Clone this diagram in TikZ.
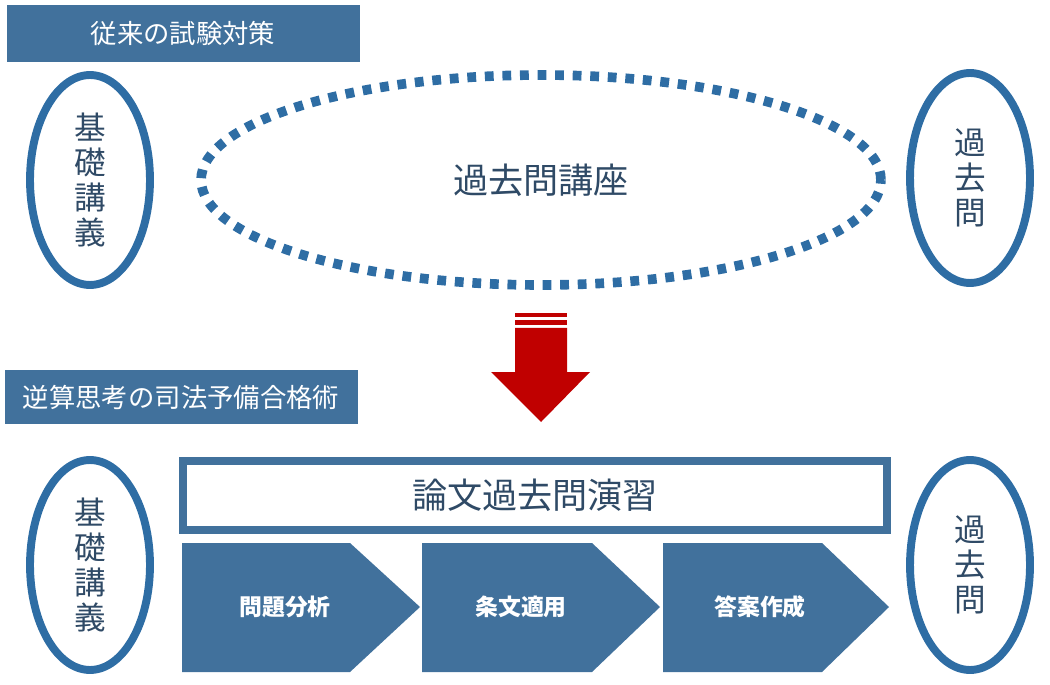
\documentclass[tikz,border=0pt]{standalone}
\usepackage{fontspec}
\setmainfont{Noto Sans CJK JP}
\usetikzlibrary{shapes.geometric,positioning}

\definecolor{boxblue}{HTML}{41719C}
\definecolor{lineblue}{HTML}{2E6DA4}
\definecolor{textblue}{HTML}{2F4A66}
\definecolor{arrowred}{HTML}{C00000}

\begin{document}
\begin{tikzpicture}[
    x=0.02cm, y=-0.02cm,
    title/.style={fill=boxblue, text=white, font=\fontsize{15}{18}\selectfont, inner sep=0pt}, % Stil der Titel
    oval/.style={ellipse, draw=lineblue, line width=4.5pt, inner sep=0pt, minimum width=2.4cm, minimum height=4.2cm, text=textblue, align=center, font=\fontsize{18}{20}\selectfont}, % Stil der Ellipsen
    phase/.style={fill=boxblue, text=white, font=\bfseries\fontsize{13}{16}\selectfont} % Stil der Pfeile
]
\useasboundingbox (0,0) rectangle (1050,685);

% Titel oben
\fill[boxblue] (7,5) rectangle (360,62);
\node[title] (old) at (183,33) {従来の試験対策};

% Ellipsen oben
\node[oval] (basic1) at (90,180) {基\\礎\\講\\義};
\node[oval] (past1) at (970,178) {過\\去\\問};
\node[ellipse, draw=lineblue, line width=5.5pt, dash pattern=on 5pt off 5pt,
      minimum width=13.6cm, minimum height=4.2cm, text=textblue,
      font=\fontsize{20}{25}\selectfont] (course) at (541,180) {過去問講座};

% roter Pfeil
\fill[arrowred] (515,313) rectangle (567,317);
\fill[arrowred] (515,320) rectangle (567,325);
\fill[arrowred] (515,328) -- (567,328) -- (567,372) -- (590,372) -- (541,422) -- (491,372) -- (515,372) -- cycle;

% Titel unten
\fill[boxblue] (5,370) rectangle (358,424);
\node[title] (new) at (181,397) {逆算思考の司法予備合格術};

% Ellipsen unten
\node[oval] (basic2) at (90,565) {基\\礎\\講\\義};
\node[oval] (past2) at (970,565) {過\\去\\問};

% Rahmen
\draw[boxblue, line width=4.5pt] (183,461) rectangle (887,530);
\node[text=textblue, font=\fontsize{20}{25}\selectfont] (essay) at (535,495) {論文過去問演習};

% Schritte
\fill[boxblue] (182,543) -- (350,543) -- (420,607) -- (350,672) -- (182,672) -- cycle;
\fill[boxblue] (422,543) -- (592,543) -- (660,607) -- (592,672) -- (422,672) -- cycle;
\fill[boxblue] (663,543) -- (822,543) -- (889,607) -- (822,672) -- (663,672) -- cycle;
\node[phase] (s1) at (285,607) {問題分析};
\node[phase] (s2) at (521,607) {条文適用};
\node[phase] (s3) at (760,607) {答案作成};

\end{tikzpicture}
\end{document}
